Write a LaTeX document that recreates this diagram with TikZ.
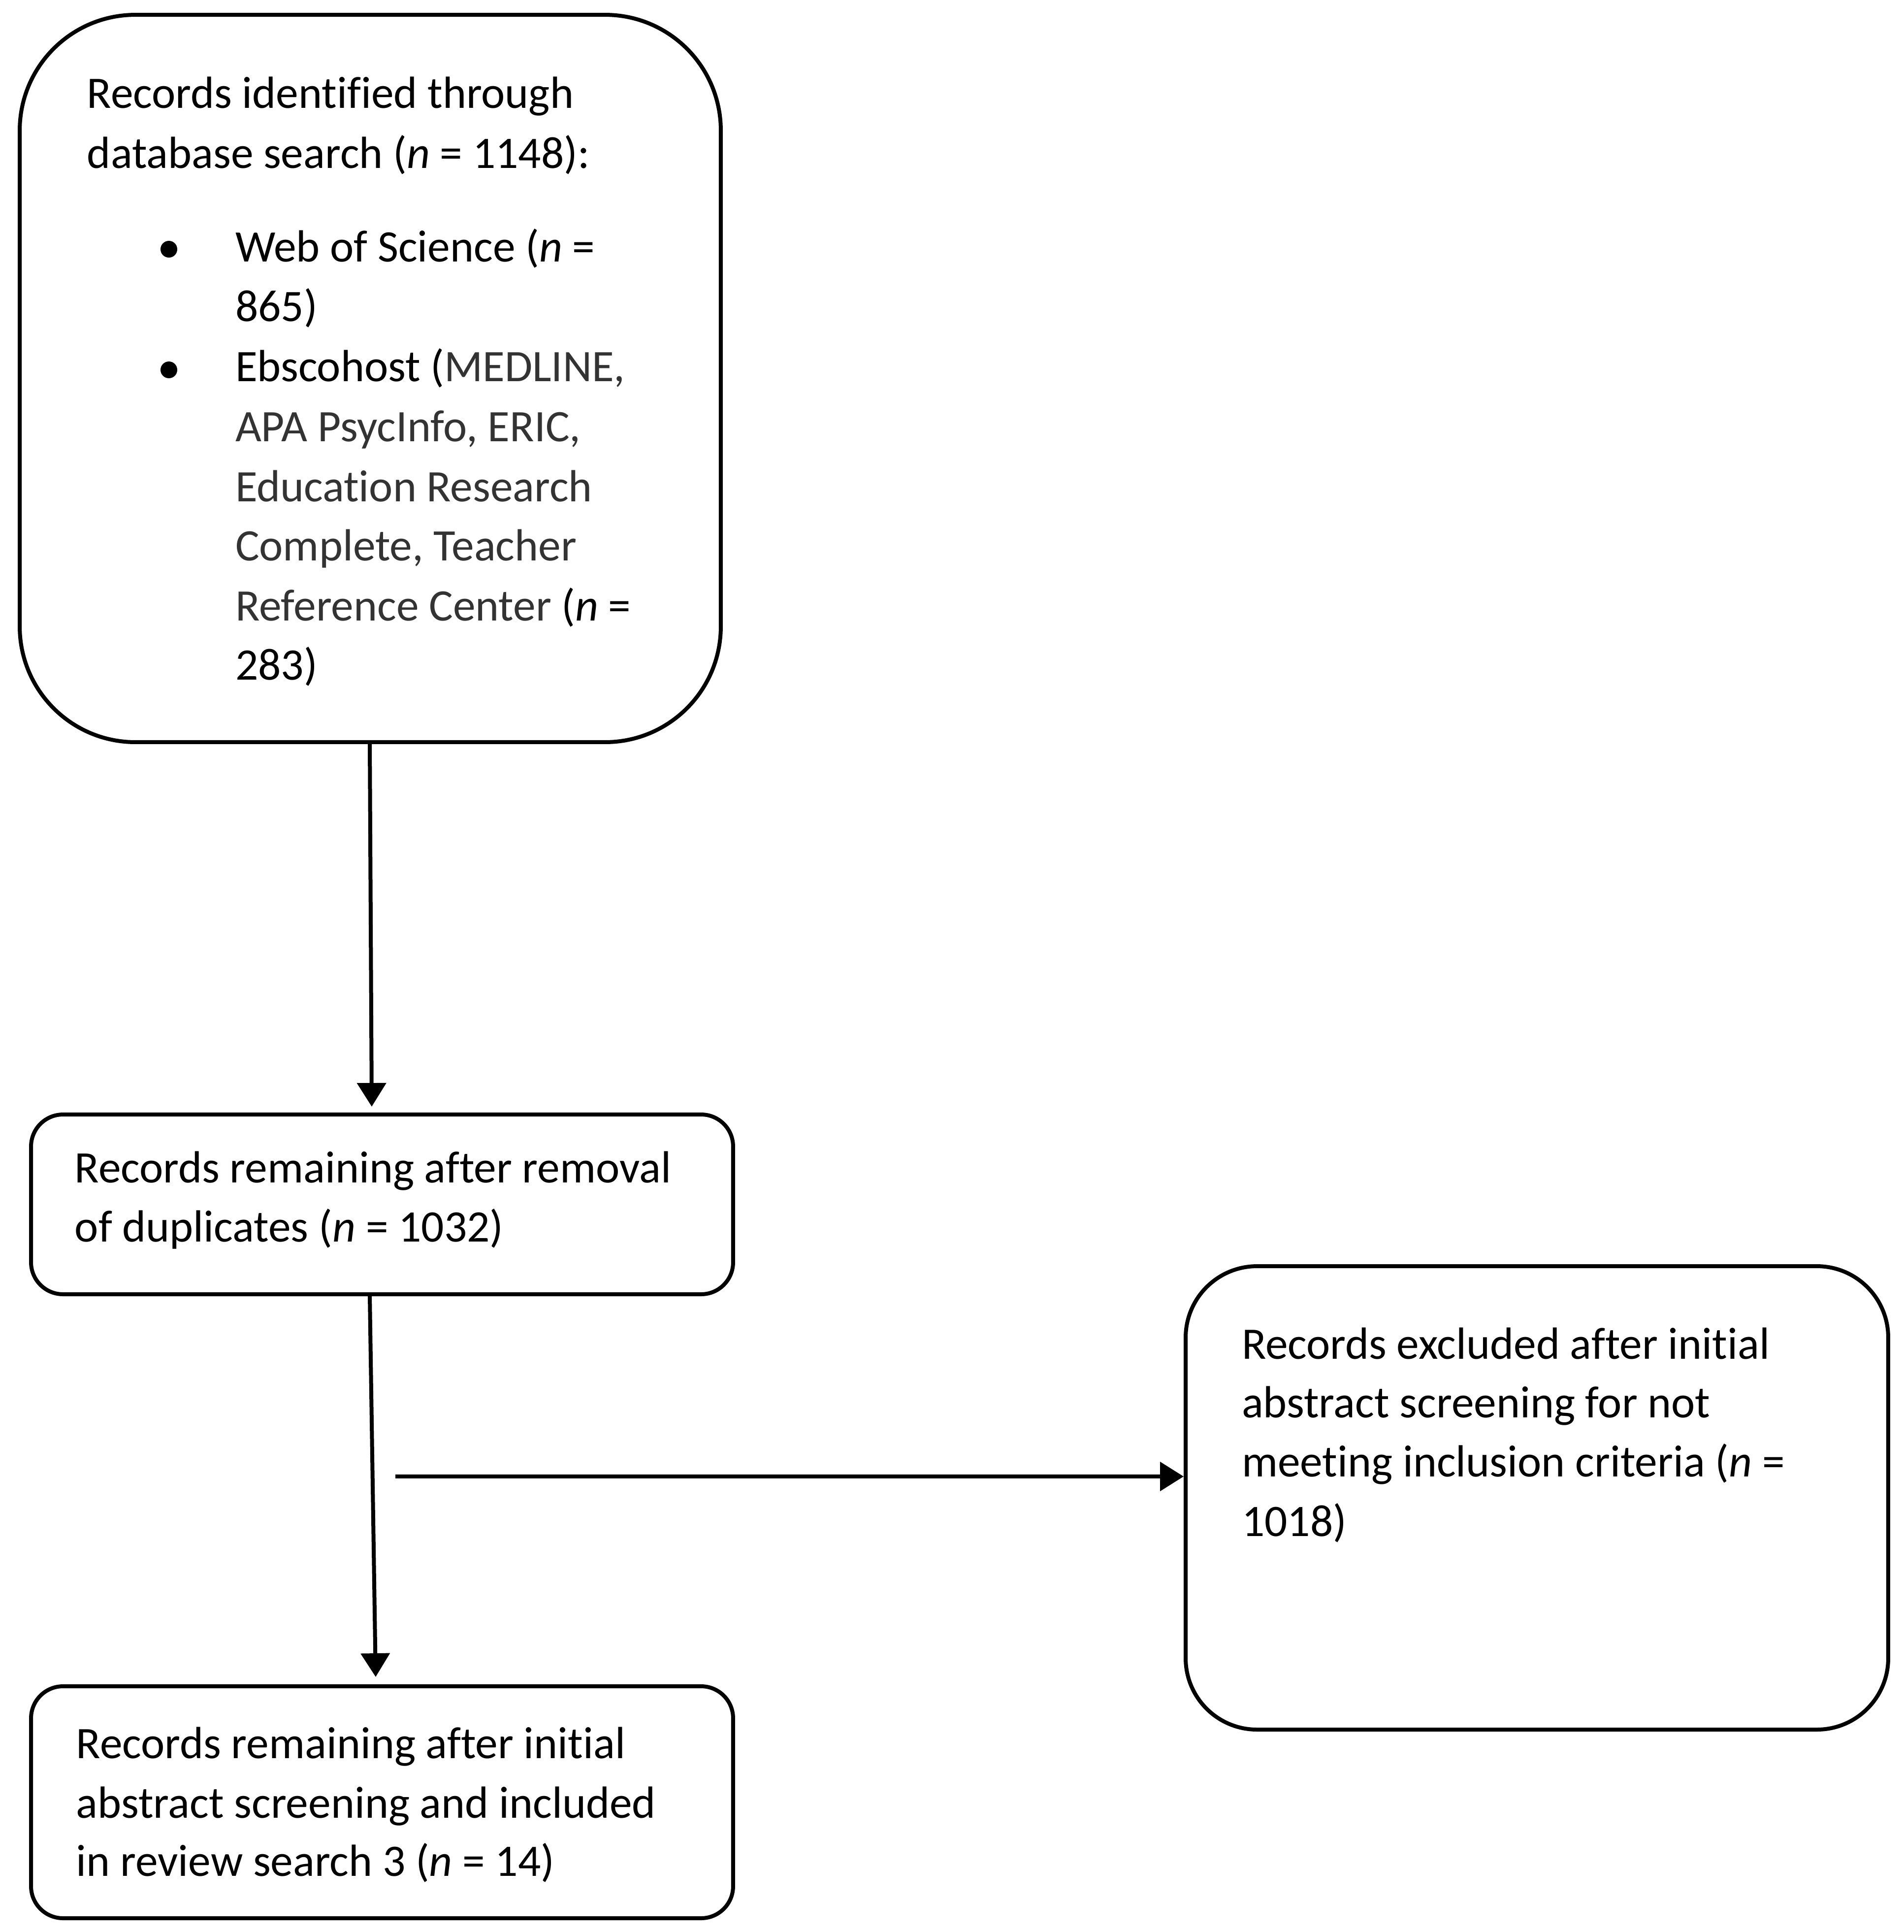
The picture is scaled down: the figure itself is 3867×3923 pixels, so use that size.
\documentclass[tikz,border=0pt]{standalone}
\usepackage{fontspec}
\setmainfont{Carlito}[Ligatures={CommonOff,ContextualOff}]
\usetikzlibrary{arrows.meta,calc}
\definecolor{txtgray}{HTML}{333333}
\newcommand\nlg{\kern0pt }
\begin{document}
\begin{tikzpicture}[x=0.1pt,y=-0.1pt,
  box/.style={draw=black,line width=0.8pt,rectangle,inner sep=0pt,fill=none},
  arr/.style={line width=0.8pt,-{Triangle[width=5.8pt,length=4.8pt]}},
  ln/.style={anchor=base west,inner sep=0pt,font=\fontsize{9.15pt}{12.1pt}\selectfont},
  dot/.style={circle,fill=black,inner sep=0pt,minimum size=3.4pt}]
\useasboundingbox (0,0) rectangle (3867,3923);
% boxes
\node[box,rounded corners=23.5pt,minimum width=142.4pt,minimum height=147.7pt] (b1) at (752,768.5) {};
\node[box,rounded corners=6.5pt,minimum width=142.6pt,minimum height=36.5pt] (b2) at (776,2445.5) {};
\node[box,rounded corners=6.5pt,minimum width=142.6pt,minimum height=47.1pt] (b3) at (776,3659.5) {};
\node[box,rounded corners=14.5pt,minimum width=142.7pt,minimum height=94.1pt] (b4) at (3121.5,3041.5) {};
% box 1 text
\node[ln] (t11) at (175,219) {Records ident\nlg i\nlg f\nlg i\nlg ed through};
\node[ln] (t12) at (175,341) {database search (\textit{n} = 1148):};
\node[dot] (d1) at (343,506) {};
\node[ln] (t13) at (476,531) {Web of Science (\textit{n} =};
\node[ln] (t14) at (476,652) {865)};
\node[dot] (d2) at (343,751) {};
\node[ln] (t15) at (476,774) {Ebscohost (\textcolor{txtgray}{MEDLINE,}};
\node[ln,text=txtgray] (t16) at (476,896) {APA PsycInfo, ERIC,};
\node[ln,text=txtgray] (t17) at (476,1018) {Educat\nlg ion Research};
\node[ln,text=txtgray] (t18) at (476,1138) {Complete, Teacher};
\node[ln] (t19) at (476,1260) {\textcolor{txtgray}{Reference Center} (\textit{n} =};
\node[ln] (t110) at (476,1380) {283)};
% box 2 text
\node[ln] (t21) at (150,2401) {Records remaining after removal};
\node[ln] (t22) at (150,2521) {of duplicates (\textit{n} = 1032)};
% box 3 text
\node[ln] (t31) at (153,3570) {Records remaining after init\nlg ial};
\node[ln] (t32) at (153,3691) {abstract screening and included};
\node[ln] (t33) at (153,3809) {in review search 3 (\textit{n} = 14)};
% box 4 text
\node[ln] (t41) at (2520,2759) {Records excluded after init\nlg ial};
\node[ln] (t42) at (2520,2878) {abstract screening for not};
\node[ln] (t43) at (2520,2998) {meeting inclusion criteria (\textit{n} =};
\node[ln] (t44) at (2520,3119) {1018)};
% connectors
\draw[arr] ($(b1.south)+(-1,0)$) -- ($(b2.north)+(-21,-12)$);
\draw[arr] ($(b2.south)+(-25,0)$) -- ($(b3.north)+(-13,-15)$);
\coordinate (h0) at (803,2998);
\draw[arr] (h0) -- (h0 -| b4.west);
\end{tikzpicture}
\end{document}
